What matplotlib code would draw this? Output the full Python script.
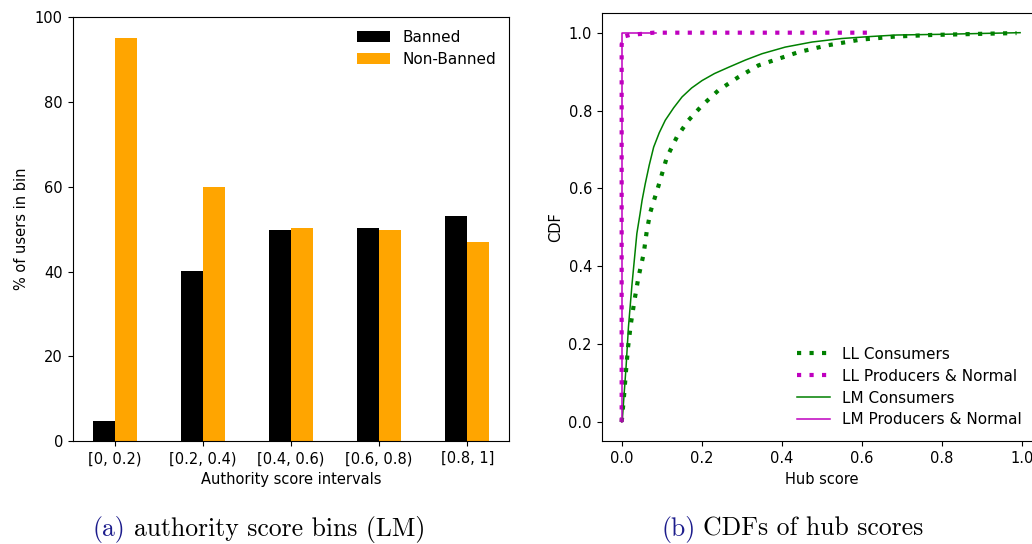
import numpy as np
import matplotlib
matplotlib.use('Agg')
import matplotlib.pyplot as plt

plt.rcParams['font.family'] = 'DejaVu Sans'
plt.rcParams['font.size'] = 10.5

# (a) authority score bins
intervals = ['[0, 0.2)', '[0.2, 0.4)', '[0.4, 0.6)', '[0.6, 0.8)', '[0.8, 1]']
banned = [4.8, 40.1, 49.8, 50.3, 53.0]
non_banned = [95.0, 59.9, 50.2, 49.7, 47.0]

# (b) CDFs of hub scores
ll_cons_x = [0, 0.001, 0.006, 0.011, 0.016, 0.023, 0.032, 0.042, 0.055, 0.063, 0.072,
             0.0925, 0.113, 0.138, 0.167, 0.201, 0.242, 0.292, 0.342, 0.392, 0.442,
             0.512, 0.596, 0.683, 0.771, 0.896, 0.987]
ll_cons_y = [0, 0.01, 0.068, 0.133, 0.192, 0.252, 0.312, 0.372, 0.432, 0.492, 0.54,
             0.608, 0.68, 0.732, 0.775, 0.813, 0.852, 0.886, 0.916, 0.933, 0.950,
             0.967, 0.982, 0.99, 0.994, 0.997, 0.999]
ll_prod_x = [0, 0, 0.005, 0.02, 0.05, 0.08, 0.616]
ll_prod_y = [0, 0.97, 0.99, 0.994, 0.997, 1.0, 1.0]
lm_cons_x = [0, 0.002, 0.005, 0.011, 0.017, 0.026, 0.038, 0.046, 0.051, 0.059, 0.069, 0.080,
             0.094, 0.109, 0.13, 0.151, 0.175, 0.201, 0.232, 0.267, 0.31, 0.351, 0.409,
             0.476, 0.55, 0.62, 0.687, 0.81, 0.9, 0.996]
lm_cons_y = [0, 0.01, 0.055, 0.141, 0.244, 0.355, 0.484, 0.535, 0.569, 0.612, 0.66, 0.706,
             0.743, 0.775, 0.807, 0.835, 0.858, 0.877, 0.895, 0.911, 0.93, 0.946, 0.963,
             0.976, 0.985, 0.99, 0.994, 0.996, 0.998, 1.0]
lm_prod_x = [0, 0, 0.087]
lm_prod_y = [0, 1.0, 1.0]

fig = plt.figure(figsize=(10.32, 5.44), dpi=100)

ax1 = fig.add_axes([0.0704, 0.1886, 0.4231, 0.7807])
pos = np.arange(len(intervals))
w = 0.25
ax1.bar(pos - w / 2, banned, w, color='black', label='Banned')
ax1.bar(pos + w / 2, non_banned, w, color='orange', label='Non-Banned')
ax1.set_xticks(pos)
ax1.set_xticklabels(intervals)
ax1.set_ylim(0, 100)
ax1.set_xlabel('Authority score intervals')
ax1.set_ylabel('% of users in bin')
ax1.legend(loc='upper right', frameon=False, handlelength=2.2, fontsize=11,
           borderaxespad=0.45, labelspacing=0.45)

ax2 = fig.add_axes([0.583, 0.1886, 0.4264, 0.7871])
ax2.plot(ll_cons_x, ll_cons_y, color='g', lw=3, linestyle=(0, (1, 2)), label='LL Consumers')
ax2.plot(ll_prod_x, ll_prod_y, color='m', lw=3, linestyle=(0, (1, 2)), label='LL Producers & Normal')
ax2.plot(lm_cons_x, lm_cons_y, color='g', lw=1.1, label='LM Consumers')
ax2.plot(lm_prod_x, lm_prod_y, color='m', lw=1.1, label='LM Producers & Normal')
ax2.set_xlim(-0.05, 1.05)
ax2.set_ylim(-0.05, 1.05)
ax2.set_xticks([0, 0.2, 0.4, 0.6, 0.8, 1.0])
ax2.set_yticks([0, 0.2, 0.4, 0.6, 0.8, 1.0])
ax2.set_xlabel('Hub score')
ax2.set_ylabel('CDF')
ax2.legend(loc='lower left', bbox_to_anchor=(0.766, 0.203), bbox_transform=fig.transFigure,
           frameon=False, borderaxespad=0, handlelength=2.2, fontsize=11, labelspacing=0.45)

# subfigure captions
cap = dict(family='cmr10', fontsize=18.5, va='baseline')
fig.text(0.0898, 0.015, '(a)', color='#1c1c8c', **cap)
fig.text(0.1300, 0.015, 'authority score bins (LM)', **cap)
fig.text(0.641, 0.015, '(b)', color='#1c1c8c', **cap)
fig.text(0.6815, 0.015, 'CDFs of hub scores', **cap)

fig.savefig('out.png', dpi=100)
